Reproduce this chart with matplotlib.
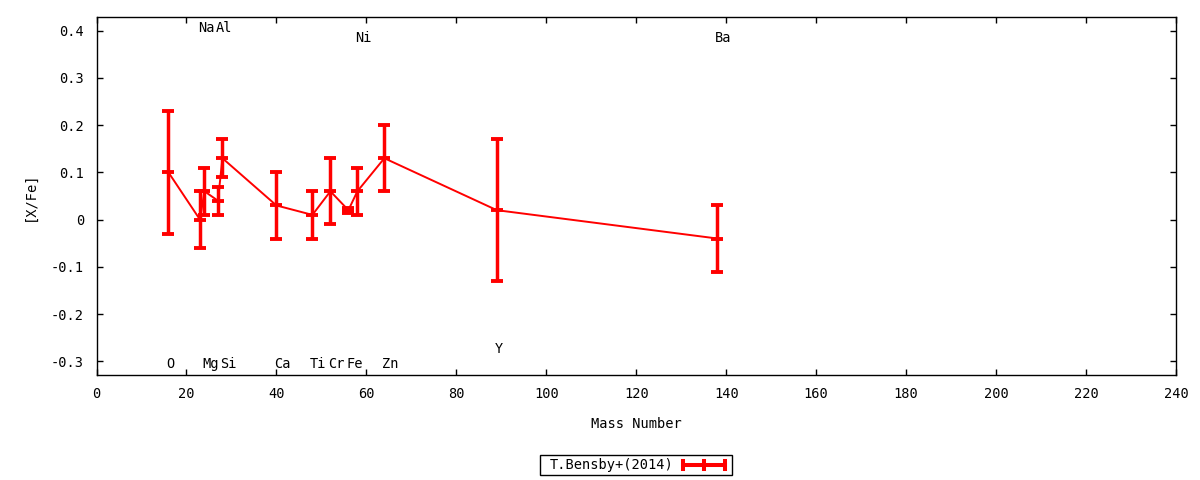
import matplotlib
matplotlib.use("Agg")
import matplotlib.pyplot as plt
from matplotlib.patches import Rectangle
from matplotlib.lines import Line2D

mass = [16, 23, 24, 27, 28, 40, 48, 52, 56, 58, 64, 89, 138]
xfe = [0.10, 0.00, 0.06, 0.04, 0.13, 0.03, 0.01, 0.06, 0.02, 0.06, 0.13, 0.02, -0.04]
err = [0.13, 0.06, 0.05, 0.03, 0.04, 0.07, 0.05, 0.07, 0.005, 0.05, 0.07, 0.15, 0.07]
elements = ["O", "Na", "Mg", "Al", "Si", "Ca", "Ti", "Cr", "Fe", "Ni", "Zn", "Y", "Ba"]
label_y = [-0.305, 0.405, -0.305, 0.405, -0.305, -0.305, -0.305, -0.305, -0.305,
           0.385, -0.305, -0.275, 0.385]
series_name = "T.Bensby+(2014)"
xticks = list(range(0, 241, 20))
yticks = [-0.3, -0.2, -0.1, 0, 0.1, 0.2, 0.3, 0.4]
yticklabels = ["-0.3", "-0.2", "-0.1", "0", "0.1", "0.2", "0.3", "0.4"]

RED = '#ff0000'
plt.rcParams['font.family'] = ['DejaVu Sans Mono']
plt.rcParams['font.size'] = 9.8

W, H = 1200, 480
fig = plt.figure(figsize=(12, 4.8), dpi=100)
ax = fig.add_axes([96.5/W, 1 - 375/H, (1176-96.5)/W, (375-17)/H])

ax.errorbar(mass, xfe, yerr=err, color=RED, linewidth=1.4,
            elinewidth=2.5, capsize=4.5, capthick=2.8,
            marker='_', markersize=8, markeredgewidth=2.8,
            label=series_name)

for el, x, y in zip(elements, mass, label_y):
    ax.text(x - 0.5, y, el, ha='left', va='center', color='black')

ax.set_xlim(0, 240)
ax.set_ylim(-0.329, 0.429)
ax.set_xticks(xticks)
ax.set_yticks(yticks)
ax.set_yticklabels(yticklabels)
ax.tick_params(direction='in', length=4, width=1, top=True, right=True, pad=9)
for s in ax.spines.values():
    s.set_linewidth(1)

ax.set_xlabel("Mass Number", labelpad=11.5)
ax.set_ylabel("[X/Fe]", labelpad=10)

# gnuplot-style key below the plot (pixel-based overlay)
ov = fig.add_axes([0, 0, 1, 1], facecolor='none')
ov.set_xlim(0, W)
ov.set_ylim(H, 0)
ov.axis('off')
ov.add_patch(Rectangle((540, 455), 192, 20, fill=False, edgecolor='black', linewidth=1))
ov.text(673, 465, series_name, ha='right', va='center')
ov.add_line(Line2D([683, 725], [465, 465], color=RED, linewidth=2.9))
for xc in (683, 704, 725):
    ov.add_line(Line2D([xc, xc], [461, 469], color=RED, linewidth=2.9))

fig.savefig("out.png", dpi=100)
